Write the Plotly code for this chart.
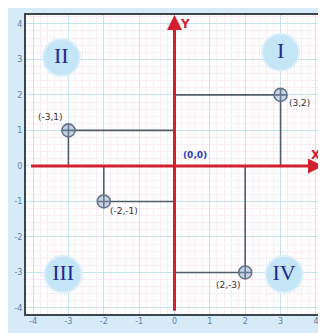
import plotly.graph_objects as go

# points and their labels
pt_x = [3, -3, -2, 2]
pt_y = [2, 1, -1, -3]
pt_labels = ["(3,2)", "(-3,1)", "(-2,-1)", "(2,-3)"]

# quadrant badges
quad_x = [3.0, -3.2, -3.15, 3.1]
quad_y = [3.2, 3.05, -3.05, -3.05]
quad_names = ["I", "II", "III", "IV"]

ticks = [-4, -3, -2, -1, 0, 1, 2, 3, 4]
tick_text = ["-4", "-3", "-2", "-1", "0", "1", "2", "3", "4"]

RED = "#d3202e"
GUIDE = "#505c68"

fig = go.Figure()

# guide lines from each point to the axes
for x, y in zip(pt_x, pt_y):
    fig.add_trace(go.Scatter(
        x=[x, x, 0], y=[0, y, y], mode="lines",
        line=dict(color=GUIDE, width=1.6), hoverinfo="skip", showlegend=False))

# quadrant circles with roman numerals
fig.add_trace(go.Scatter(
    x=quad_x, y=quad_y, mode="markers+text", text=quad_names,
    textposition="middle center",
    textfont=dict(family="Liberation Serif", size=22, color="#1f2a8c"),
    marker=dict(size=37, color="#c4e5f6", line=dict(color="#dff0fa", width=2)),
    showlegend=False))

# the points
fig.add_trace(go.Scatter(
    x=pt_x, y=pt_y, mode="markers",
    marker=dict(symbol="circle-cross", size=13, color="#c9d4e2",
                line=dict(color="#62748e", width=1.6)),
    showlegend=False))

# point labels, nudged like the original
shifts = {"(3,2)": (19, -8), "(-3,1)": (-18, 13), "(-2,-1)": (20, -10), "(2,-3)": (-17, -13)}
for x, y, t in zip(pt_x, pt_y, pt_labels):
    dx, dy = shifts[t]
    fig.add_annotation(x=x, y=y, text=t, showarrow=False, xshift=dx, yshift=dy,
                       font=dict(family="DejaVu Sans", size=9, color="#333333"))

# red axes with arrow heads
fig.add_annotation(x=4.2, y=0, ax=-4.1, ay=0, axref="x", ayref="y", xref="x", yref="y",
                   showarrow=True, arrowhead=2, arrowsize=1, arrowwidth=3, arrowcolor=RED, text="")
fig.add_annotation(x=0, y=4.25, ax=0, ay=-4.12, axref="x", ayref="y", xref="x", yref="y",
                   showarrow=True, arrowhead=2, arrowsize=1, arrowwidth=3, arrowcolor=RED, text="")
fig.add_annotation(x=4, y=0, text="<b>X</b>", showarrow=False, yshift=11, xshift=0,
                   font=dict(family="DejaVu Sans", size=12, color=RED))
fig.add_annotation(x=0, y=4, text="<b>Y</b>", showarrow=False, xshift=10, yshift=0,
                   font=dict(family="DejaVu Sans", size=12, color=RED))
fig.add_annotation(x=0, y=0, text="<b>(0,0)</b>", showarrow=False, xshift=20, yshift=11,
                   font=dict(family="DejaVu Sans", size=9, color="#2b3db5"))

axis_common = dict(
    tickvals=ticks, ticktext=tick_text, showline=True, mirror=True,
    linecolor="#3b454d", linewidth=2,
    gridcolor="#c4e2f1", gridwidth=1, zeroline=False, ticks="",
    tickfont=dict(family="DejaVu Sans", size=8, color="#5b80a8"),
    minor=dict(dtick=0.2, showgrid=True, gridcolor="#f8ebf1", gridwidth=1),
    fixedrange=True, automargin=False,
)
fig.update_xaxes(range=[-4.2, 4.2], ticklabelstandoff=-2, **axis_common)
fig.update_yaxes(range=[-4.17, 4.25], ticklabelstandoff=0, **axis_common)

# the page body adds an 8px offset, so the figure itself is 8px smaller
fig.update_layout(
    width=318, height=325,
    margin=dict(l=18, r=3, t=7, b=19),
    paper_bgcolor="#d6eaf7", plot_bgcolor="white",
    showlegend=False,
)

fig.write_html("out.html")
